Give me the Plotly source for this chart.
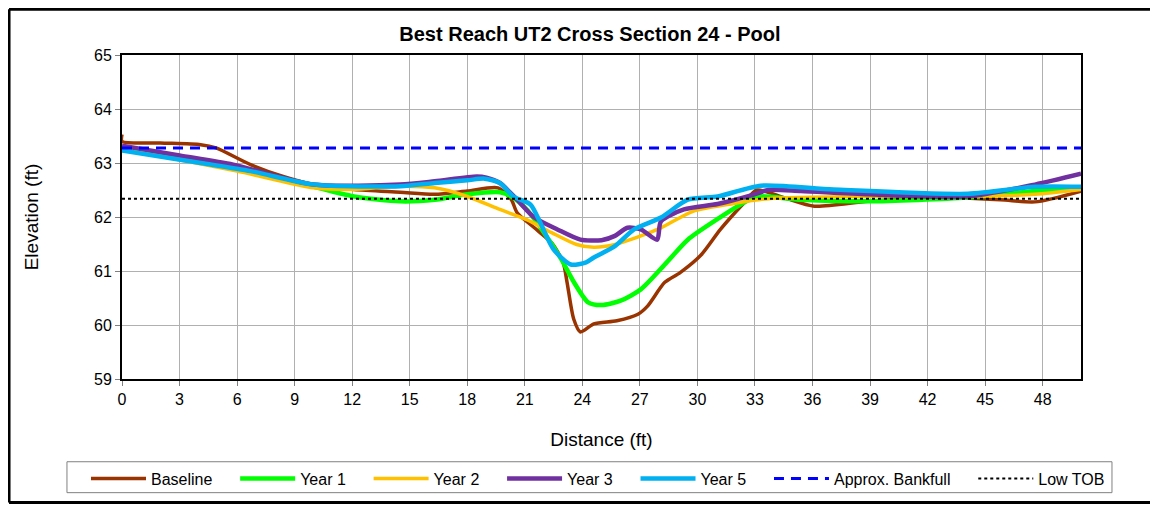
import plotly.graph_objects as go

# Cross section survey data (distance ft, elevation ft)
base_x = [0, 0, 2, 4.1, 4.9, 6.7, 8.4, 10, 12.1, 14.5, 16.3, 18, 19.6, 20.3, 20.6, 21.5, 22.4, 23.0, 23.2, 23.55, 23.9,
          24.6, 25.8, 26.9, 27.4, 28.3, 29.1, 30.2, 31.2, 32.4, 33.1, 34.5, 36.1, 38.9, 42.4, 45.8, 47.6, 50]
base_y = [63.53, 63.4, 63.37, 63.34, 63.28, 62.97, 62.75, 62.6, 62.51, 62.46, 62.42, 62.48, 62.54, 62.32, 62.08, 61.8,
          61.52, 61.16, 60.8, 60.11, 59.87, 60.02, 60.08, 60.2, 60.35, 60.79, 60.97, 61.3, 61.77, 62.25, 62.5, 62.36,
          62.2, 62.29, 62.36, 62.32, 62.28, 62.48]

yr1_x = [0, 3, 6, 9, 12.1, 14.5, 16.3, 18, 19.7, 20.3, 21.1, 22.0, 22.9, 23.55, 24.3, 25.0, 26.0, 27.05, 28.4, 29.5,
         31.0, 32.6, 33.1, 35.4, 38.9, 44.1, 47.6, 50]
yr1_y = [63.25, 63.08, 62.88, 62.65, 62.38, 62.29, 62.32, 62.42, 62.46, 62.38, 62.14, 61.71, 61.22, 60.8, 60.42, 60.37,
         60.45, 60.66, 61.16, 61.58, 61.95, 62.3, 62.38, 62.32, 62.29, 62.36, 62.48, 62.54]

yr2_x = [0, 3, 6, 10, 12, 14.5, 16.3, 18, 19.7, 21.1, 22.4, 23.7, 24.6, 25.7, 27.05, 28.1, 29.8, 31.9, 33.7, 38.9,
         44.1, 47.6, 50]
yr2_y = [63.25, 63.06, 62.85, 62.54, 62.51, 62.57, 62.54, 62.38, 62.14, 61.95, 61.71, 61.49, 61.44, 61.49, 61.65, 61.8,
         62.11, 62.25, 62.34, 62.38, 62.38, 62.42, 62.51]

yr3_x = [0, 3, 5.8, 10, 14.5, 16.3, 18.5, 19.0, 19.7, 20.6, 21.5, 22.7, 23.9, 25.0, 25.7, 26.35, 27.05, 27.9, 28.1, 29.3,
         31.05, 32.8, 33.7, 35.4, 38.9, 44.1, 47.6, 50]
yr3_y = [63.32, 63.14, 62.97, 62.6, 62.6, 62.66, 62.75, 62.73, 62.63, 62.32, 61.99, 61.77, 61.58, 61.57, 61.65, 61.8,
         61.77, 61.58, 61.92, 62.14, 62.24, 62.4, 62.5, 62.48, 62.42, 62.38, 62.6, 62.8]

yr5_x = [0, 4.1, 6.7, 10, 14.5, 16.3, 18, 18.9, 19.7, 20.4, 21.3, 21.8, 22.5, 23.4, 24.2, 24.6, 25.7, 26.7, 28.1, 29.5,
         31.05, 33.3, 37.1, 44.1, 47.6, 50]
yr5_y = [63.23, 63.0, 62.85, 62.6, 62.57, 62.63, 62.68, 62.71, 62.63, 62.38, 62.23, 61.9, 61.4, 61.12, 61.16, 61.25,
         61.46, 61.77, 61.99, 62.32, 62.38, 62.58, 62.51, 62.43, 62.56, 62.56]

bankfull = 63.28
low_tob = 62.34
x_span = [0, 50]

series = [
    ("Baseline", base_x, base_y, "#993300", 3.5),
    ("Year 1", yr1_x, yr1_y, "#00FF00", 4.5),
    ("Year 2", yr2_x, yr2_y, "#FFC000", 3.5),
    ("Year 3", yr3_x, yr3_y, "#7030A0", 4.5),
    ("Year 5", yr5_x, yr5_y, "#00B0F0", 4.5),
]

pad = "\u00a0" * 4  # spacing between legend entries

fig = go.Figure()
for name, xs, ys, col, w in series:
    fig.add_trace(go.Scatter(x=xs, y=ys, name=name + pad, mode="lines",
                             line=dict(color=col, width=w, shape="spline", smoothing=0.7)))

fig.add_trace(go.Scatter(x=x_span, y=[bankfull, bankfull], name="Approx. Bankfull" + pad, mode="lines",
                         line=dict(color="#0000FF", width=3, dash="10px,7px")))
fig.add_trace(go.Scatter(x=x_span, y=[low_tob, low_tob], name="Low TOB", mode="lines",
                         line=dict(color="black", width=2, dash="dot")))

# outer chart frame: left, top and bottom edges (right edge lies off the page)
fx0, fx1, fy0, fy1 = -0.1178, 1.2, -0.381, 1.1415
for x0, y0, x1, y1 in [(fx0, fy0, fx0, fy1), (fx0, fy1, fx1, fy1), (fx0, fy0, fx1, fy0)]:
    fig.add_shape(type="line", xref="paper", yref="paper", x0=x0, y0=y0, x1=x1, y1=y1,
                  line=dict(color="black", width=3))
# legend frame
fig.add_shape(type="rect", xref="paper", yref="paper",
              x0=-0.0574, x1=1.0323, y0=-0.3508, y1=-0.2554,
              line=dict(color="#808080", width=1))

font = "Arial, Liberation Sans, sans-serif"
fig.update_layout(
    width=1150, height=498,
    margin=dict(l=114, r=77, t=47, b=126),
    paper_bgcolor="white", plot_bgcolor="white",
    font=dict(family=font, size=16, color="black"),
    title=dict(text="<b>Best Reach UT2 Cross Section 24 - Pool</b>", x=0.506, xanchor="center",
               y=1 - 26 / 498, yanchor="middle", font=dict(size=20, family=font)),
    xaxis=dict(range=[0, 50], tickmode="array", tickvals=list(range(0, 49, 3)),
               showgrid=True, gridcolor="#b0b0b0", gridwidth=1, zeroline=False,
               showline=True, linecolor="black", linewidth=2, mirror=True,
               ticks="outside", ticklen=5, tickcolor="#808080",
               title=dict(text="Distance (ft)", standoff=25)),
    yaxis=dict(range=[59, 65], dtick=1,
               showgrid=True, gridcolor="#b0b0b0", gridwidth=1, zeroline=False,
               showline=True, linecolor="black", linewidth=2, mirror=True,
               ticks="outside", ticklen=5, tickcolor="#808080",
               title=dict(text="Elevation (ft)", standoff=50)),
    legend=dict(orientation="h", x=(86 - 122) / 959, xanchor="left", y=(380 - 478.5) / 325, yanchor="middle",
                borderwidth=0, bgcolor="rgba(0,0,0,0)", font=dict(size=16),
                itemwidth=55, traceorder="normal"),
    showlegend=True,
)

fig.write_html("out.html")
